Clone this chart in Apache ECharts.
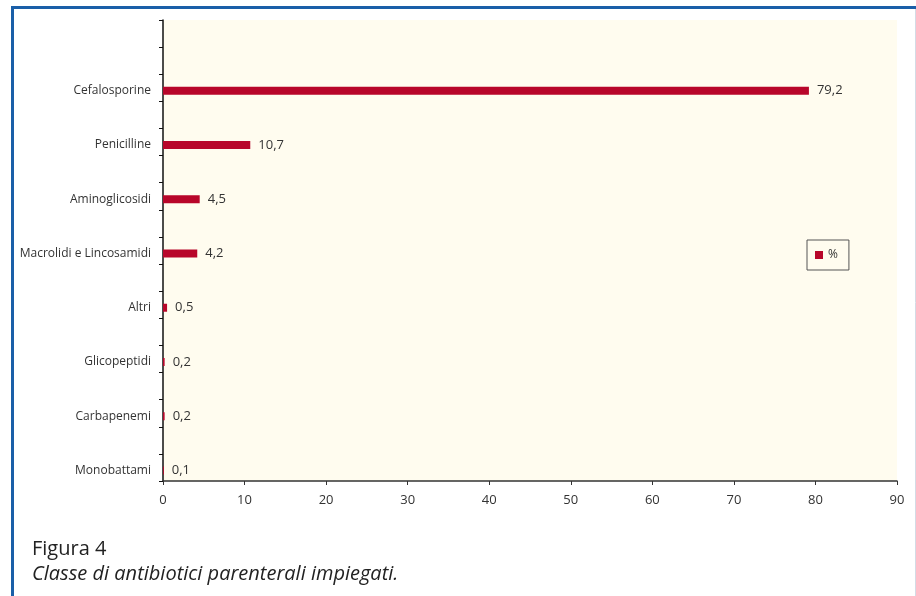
<!DOCTYPE html>
<html>
<head>
<meta charset="utf-8">
<script src="https://cdn.jsdelivr.net/npm/echarts@6/dist/echarts.min.js"></script>
<style>
  html, body { margin: 0; padding: 0; background: #fff; }
  #chart { width: 916px; height: 596px; }
</style>
</head>
<body>
<div id="chart"></div>
<script>
// chart data
var categories = ['Cefalosporine', 'Penicilline', 'Aminoglicosidi', 'Macrolidi e Lincosamidi',
                  'Altri', 'Glicopeptidi', 'Carbapenemi', 'Monobattami'];
var percent = [79.2, 10.7, 4.5, 4.2, 0.5, 0.2, 0.2, 0.1];
var xTicks = [0, 10, 20, 30, 40, 50, 60, 70, 80, 90];
var seriesName = '%';

// the original axis has a tick every half category, with an empty slot on top
var slotNames = [];
var slotValues = [];
slotNames.push('', '');
slotValues.push(null, null);
for (var i = 0; i < categories.length; i++) {
    if (i > 0) { slotNames.push(''); slotValues.push(null); }
    slotNames.push(categories[i]);
    slotValues.push(percent[i]);
}

var font = 'Open Sans';
var chart = echarts.init(document.getElementById('chart'), null, {renderer: 'canvas'});
var option = {
    animation: false,
    textStyle: {fontFamily: font},
    grid: [
        {left: 163, right: 19, top: 20, bottom: 115, show: true,
         backgroundColor: '#fffcef', borderWidth: 0},
        {left: 163, right: 19, top: 23, bottom: 112}
    ],
    legend: {
        data: [seriesName],
        left: 807, top: 240,
        orient: 'vertical',
        icon: 'rect',
        itemWidth: 8, itemHeight: 8,
        itemGap: 0,
        padding: [9, 11, 9, 8],
        borderColor: '#555',
        borderWidth: 1,
        backgroundColor: '#fffcef',
        textStyle: {fontSize: 12, color: '#333', fontFamily: font}
    },
    xAxis: [
        {gridIndex: 0, type: 'value', min: xTicks[0], max: xTicks[xTicks.length - 1], interval: 10,
         axisLine: {show: true, lineStyle: {color: '#333', width: 1.5}},
         axisTick: {show: true, length: 4, lineStyle: {color: '#333'}},
         axisLabel: {margin: 13, fontSize: 13, color: '#333'},
         splitLine: {show: false}},
        {gridIndex: 1, type: 'value', min: xTicks[0], max: xTicks[xTicks.length - 1], interval: 10,
         show: false}
    ],
    yAxis: [
        {gridIndex: 0, type: 'category', inverse: true, data: slotNames,
         axisLine: {show: true, lineStyle: {color: '#111', width: 1.5}},
         axisTick: {show: true, length: 4, interval: 0, lineStyle: {color: '#111'}},
         axisLabel: {show: false}},
        {gridIndex: 1, type: 'category', inverse: true, data: slotNames,
         axisLine: {show: false}, axisTick: {show: false},
         axisLabel: {interval: 0, margin: 12, fontSize: 12, color: '#333'}}
    ],
    series: [{
        name: seriesName,
        type: 'bar',
        xAxisIndex: 1, yAxisIndex: 1,
        data: slotValues,
        barWidth: 8,
        itemStyle: {color: '#b8062a'},
        label: {
            show: true, position: 'right', distance: 8,
            fontSize: 13, color: '#333',
            formatter: function (p) { return p.value.toFixed(1).replace('.', ','); }
        }
    }],
    graphic: [
        {type: 'rect', shape: {x: 12.5, y: 7.5, width: 930, height: 620},
         style: {fill: null, stroke: '#1a5fa8', lineWidth: 3}},
        {type: 'line', shape: {x1: 915.5, y1: 9, x2: 915.5, y2: 596},
         style: {stroke: '#d3dbe5', lineWidth: 1}},
        {type: 'text', left: 32, top: 539,
         style: {text: 'Figura 4', font: '20px "Open Sans"', fill: '#222'}},
        {type: 'text', left: 32, top: 564,
         style: {text: 'Classe di antibiotici parenterali impiegati.',
                 font: 'italic 20px "Open Sans"', fill: '#222'}}
    ]
};
chart.setOption(option);
</script>
</body>
</html>
